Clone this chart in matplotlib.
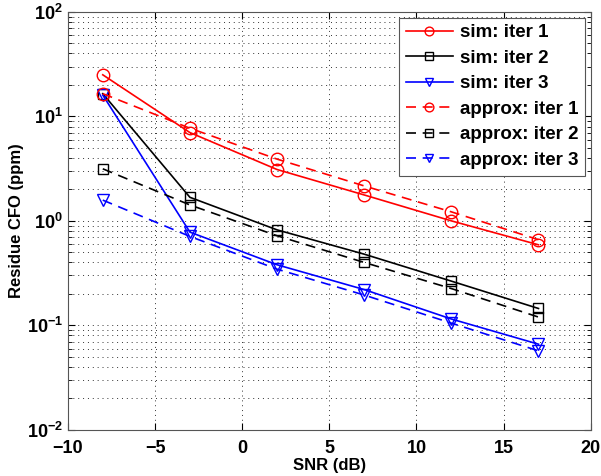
import matplotlib
matplotlib.use('Agg')
import matplotlib.pyplot as plt

plt.rcParams['font.family'] = ['Liberation Sans', 'DejaVu Sans']
plt.rcParams['font.weight'] = 'bold'
plt.rcParams['mathtext.fontset'] = 'custom'
plt.rcParams['mathtext.rm'] = 'Liberation Sans:bold'
plt.rcParams['mathtext.bf'] = 'Liberation Sans:bold'
plt.rcParams['mathtext.default'] = 'bf'

snr = [-8, -3, 2, 7, 12, 17]

sim_iter1 = [25.0, 7.0, 3.1, 1.77, 1.0, 0.59]
sim_iter2 = [16.5, 1.68, 0.82, 0.48, 0.265, 0.145]
sim_iter3 = [16.0, 0.78, 0.38, 0.22, 0.115, 0.066]

approx_iter1 = [16.5, 7.7, 3.9, 2.16, 1.22, 0.66]
approx_iter2 = [3.15, 1.42, 0.72, 0.40, 0.225, 0.12]
approx_iter3 = [1.58, 0.71, 0.345, 0.195, 0.105, 0.057]

fig = plt.figure(figsize=(6.01, 4.76), dpi=100)
ax = fig.add_axes([0.113, 0.097, 0.870, 0.878])

ms = 9
ax.plot(snr, sim_iter1, 'r-o', mfc='none', ms=ms, lw=1.2, label='sim: iter 1')
ax.plot(snr, sim_iter2, 'k-s', mfc='none', ms=ms - 1.5, lw=1.2, label='sim: iter 2')
ax.plot(snr, sim_iter3, 'b-v', mfc='none', ms=ms, lw=1.2, label='sim: iter 3')
ax.plot(snr, approx_iter1, 'r--o', mfc='none', ms=ms, lw=1.2, dashes=(6, 4), label='approx: iter 1')
ax.plot(snr, approx_iter2, 'k--s', mfc='none', ms=ms - 1.5, lw=1.2, dashes=(6, 4), label='approx: iter 2')
ax.plot(snr, approx_iter3, 'b--v', mfc='none', ms=ms, lw=1.2, dashes=(6, 4), label='approx: iter 3')

ax.set_yscale('log')
ax.set_xlim(-10, 20)
ax.set_ylim(1e-2, 1e2)
ax.set_xticks([-10, -5, 0, 5, 10, 15, 20])

grid_style = dict(linestyle=(0, (1, 4)), color='#333333', lw=0.7)
ax.grid(True, which='major', **grid_style)
ax.grid(True, which='minor', axis='y', **grid_style)
ax.tick_params(which='both', direction='in', top=True, right=True, labelsize=13)
ax.tick_params(which='major', length=5)
ax.tick_params(which='minor', length=3)
ax.tick_params(axis='x', pad=7)
for s in ax.spines.values():
    s.set_color('#555555')

ax.set_xlabel('SNR (dB)', fontsize=12, fontweight='bold', labelpad=1)
ax.set_ylabel('Residue CFO (ppm)', fontsize=12, fontweight='bold', labelpad=2)

leg = ax.legend(loc='upper right', fontsize=13.5, frameon=True, fancybox=False,
                edgecolor='#555555', framealpha=1, handlelength=2.5,
                markerscale=0.7, borderaxespad=0.3, labelspacing=0.45,
                handletextpad=0.4, borderpad=0.35)
leg.get_frame().set_linewidth(0.8)

fig.savefig('out.png', dpi=100)
